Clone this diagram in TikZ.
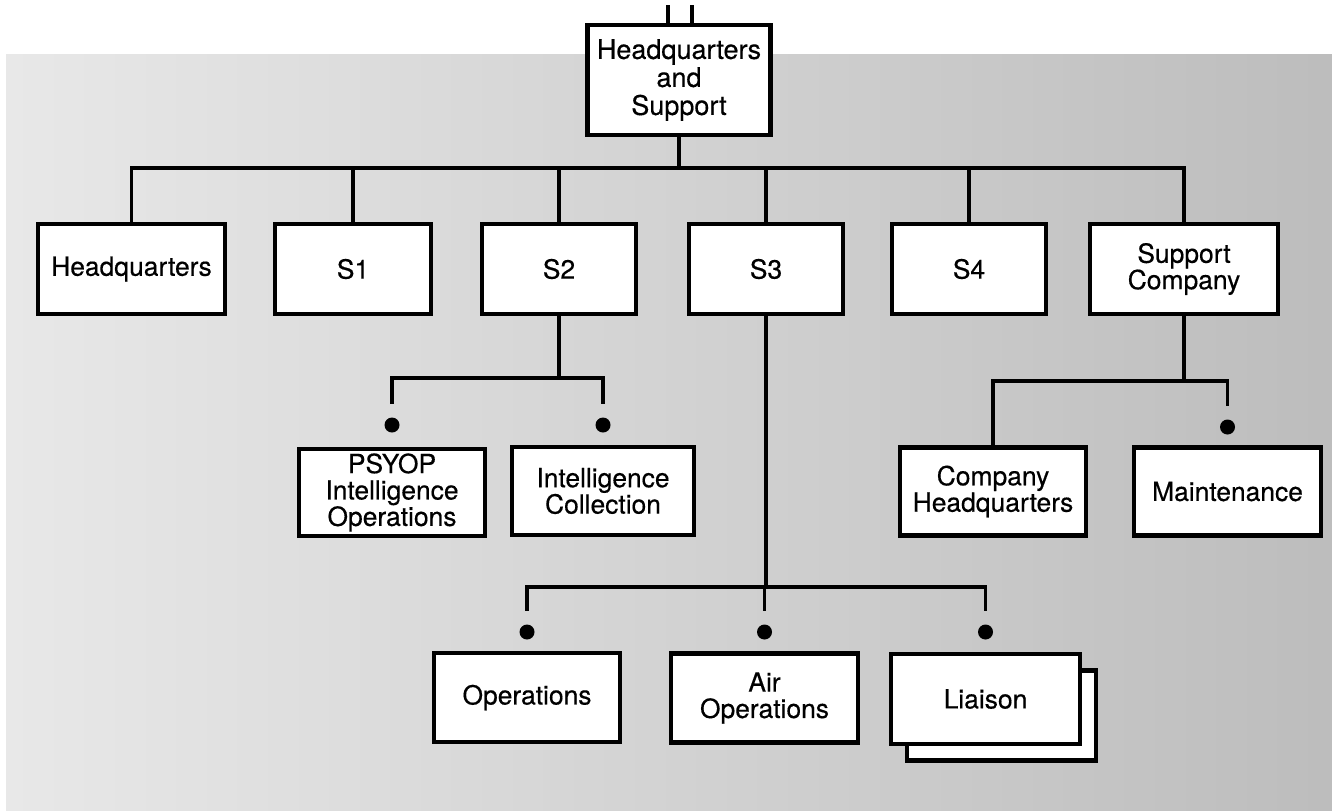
\documentclass[tikz,border=0pt]{standalone}
\usepackage{fontspec}
\setmainfont{TeX Gyre Heros}
\newfontfamily\scanfont[FakeBold=0.4]{TeX Gyre Heros}

\begin{document}
\begin{tikzpicture}[
      x=0.5pt, y=-0.5pt,
      link/.style={line width=1.8pt, draw=black},
      unit/.style={rectangle, draw=black, line width=2.1pt, fill=white, align=center,
                   inner sep=0pt, minimum height=45pt,
                   font=\scanfont\fontsize{13.2}{13.2}\selectfont},
      joint/.style={circle, fill=black, inner sep=0pt, minimum size=7.5pt}
      ]

      % Fix the page to the size of the scan, then lay down the grey screen
      \useasboundingbox (0,0) rectangle (1332,810);
      \fill[left color=black!9, right color=black!26] (6,54) rectangle (1332,810);

      % The top box, with the two stubs that lead up off the page
      \node[unit, minimum width=91.5pt, minimum height=55pt,
            font=\scanfont\fontsize{13.5}{14}\selectfont] (hqs) at (679,80)
        {Headquarters\\and\\Support};
      \coordinate (upL) at (668,5);
      \coordinate (upR) at (692,5);
      \draw[link] (upL) -- (upL |- hqs.north);
      \draw[link] (upR) -- (upR |- hqs.north);

      % First row: the staff sections and the support company
      \node[unit, minimum width=93.5pt] (hq) at (131.5,269) {Headquarters};
      \node[unit, minimum width=78pt] (s1) at (353,269) {S1};
      \node[unit, minimum width=77pt] (s2) at (559,269) {S2};
      \node[unit, minimum width=77pt] (s3) at (766,269) {S3};
      \node[unit, minimum width=77pt] (s4) at (969,269) {S4};
      \node[unit, minimum width=94pt] (supco) at (1184,269) {Support\\Company};

      % Under S2
      \node[unit, minimum width=93pt, minimum height=43.5pt] (psyop) at (392,492.5)
        {PSYOP\\Intelligence\\Operations};
      \node[unit, minimum width=91pt, minimum height=44pt] (intcol) at (603,491)
        {Intelligence\\Collection};
      \node[joint] (psyopdot) at (392,425) {};
      \node[joint] (intcoldot) at (603,425) {};

      % Under the support company
      \node[unit, minimum width=93pt, minimum height=44pt] (cohq) at (993,491.5)
        {Company\\Headquarters};
      \node[unit, minimum width=93.5pt, minimum height=44pt] (maint) at (1227.5,491.5)
        {Maintenance};
      \node[joint] (maintdot) at (1227.5,427) {};

      % Under S3; the liaison box has a second box behind it
      \node[unit, minimum width=93pt, minimum height=44.5pt] (ops) at (527,697.5) {Operations};
      \node[unit, minimum width=93.5pt, minimum height=44.5pt] (airops) at (764.5,698)
        {Air\\Operations};
      \node[unit, minimum width=94.5pt, minimum height=45pt] (liaisonback) at (1001.5,715.5) {};
      \node[unit, minimum width=94.5pt, minimum height=45pt] (liaison) at (985.5,699) {Liaison};
      \node[joint] (opsdot) at (527,632) {};
      \node[joint] (airopsdot) at (764.5,632) {};
      \node[joint] (liaisondot) at (985.5,632) {};

      % Now the lines: each bus is a named point, and every child hangs off it
      \coordinate (hqsbus) at (679,168);
      \coordinate (s2bus) at (559,378);
      \coordinate (supcobus) at (1184,381);
      \coordinate (s3bus) at (766,587);

      \draw[link] (hqs.south) -- (hqsbus);
      \foreach \n in {hq,s1,s2,s3,s4,supco}
        \draw[link] (hqsbus) -| (\n.north);

      \draw[link] (s2.south) -- (s2bus);
      \draw[link] (s2bus) -| ([yshift=6.5pt]psyopdot.north);
      \draw[link] (s2bus) -| ([yshift=6.5pt]intcoldot.north);

      \draw[link] (supco.south) -- (supcobus);
      \draw[link] (supcobus) -| (cohq.north);
      \draw[link] (supcobus) -| ([yshift=6.5pt]maintdot.north);

      \draw[link] (s3.south) -- (s3bus);
      \foreach \n in {opsdot,airopsdot,liaisondot}
        \draw[link] (s3bus) -| ([yshift=6.5pt]\n.north);
    \end{tikzpicture}
\end{document}
